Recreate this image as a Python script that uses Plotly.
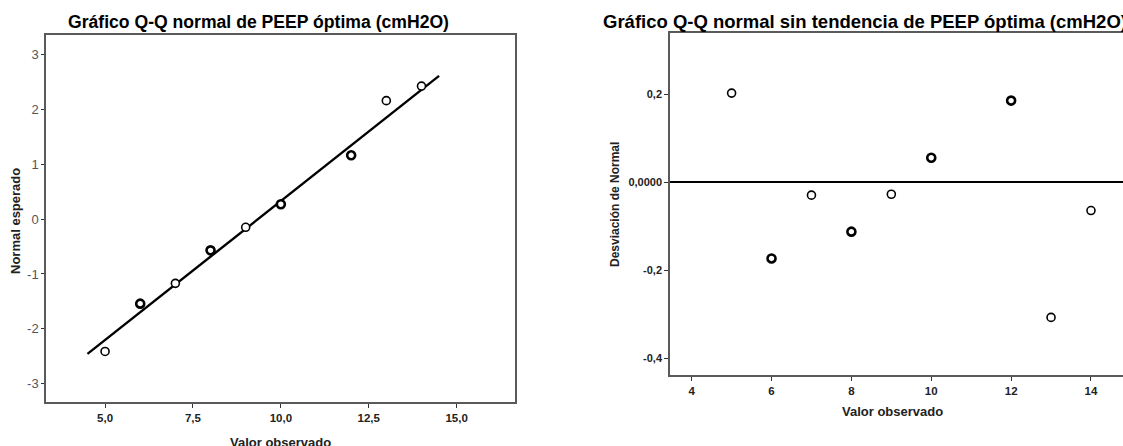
import plotly.graph_objects as go

# Observed PEEP values (cmH2O) and their expected normal scores
observed = [5, 6, 7, 8, 9, 10, 12, 13, 14]
expected_normal = [-2.41, -1.54, -1.17, -0.57, -0.15, 0.27, 1.16, 2.155, 2.42]
# Deviation from normal (detrended)
deviation = [0.203, -0.173, -0.029, -0.112, -0.027, 0.056, 0.186, -0.307, -0.064]
# Number of tied cases drawn at each value (ties render heavier)
tie_count = [1, 2, 1, 2, 1, 2, 2, 1, 1]

# Reference line of the Q-Q plot
ref_x = [4.5, 14.5]
ref_y = [-2.455, 2.605]

# Tick labels
left_yticks = [-3, -2, -1, 0, 1, 2, 3]
left_yticktext = ["-3", "-2", "-1", "0", "1", "2", "3"]
left_xticks = [5.0, 7.5, 10.0, 12.5, 15.0]
left_xticktext = ["5,0", "7,5", "10,0", "12,5", "15,0"]
right_yticks = [-0.4, -0.2, 0.0, 0.2]
right_yticktext = ["-0,4", "-0,2", "0,0000", "0,2"]
right_xticks = [4, 6, 8, 10, 12, 14]
right_xticktext = ["4", "6", "8", "10", "12", "14"]

W, H = 1123, 446
SANS = "Liberation Sans, Arial, sans-serif"
AXIS_GREY = "#5a5a5a"

def px_x(p):
    return p / W

def px_y(p):
    return 1 - p / H

line_w = [1.6 if c == 1 else 2.6 for c in tie_count]

fig = go.Figure()

fig.add_trace(go.Scatter(
    x=ref_x, y=ref_y, mode="lines",
    line=dict(color="black", width=2.4),
    xaxis="x", yaxis="y", hoverinfo="skip", showlegend=False,
))
fig.add_trace(go.Scatter(
    x=observed, y=expected_normal, mode="markers",
    marker=dict(symbol="circle", size=8, color="white",
                line=dict(color="black", width=line_w)),
    xaxis="x", yaxis="y", showlegend=False,
))
fig.add_trace(go.Scatter(
    x=observed, y=deviation, mode="markers",
    marker=dict(symbol="circle", size=8, color="white",
                line=dict(color="black", width=line_w)),
    xaxis="x2", yaxis="y2", showlegend=False,
))

common_axis = dict(
    showgrid=False, showline=True, linecolor=AXIS_GREY, linewidth=1.5,
    ticks="outside", ticklen=4, tickwidth=1.2, tickcolor="#333333",
    fixedrange=True,
)

bold_tick = dict(family=SANS, size=11, color="#222222", weight="bold")

fig.update_layout(
    width=W, height=H,
    margin=dict(l=0, r=0, t=0, b=0),
    paper_bgcolor="white", plot_bgcolor="white",
    xaxis=dict(
        common_axis, domain=[px_x(46), px_x(515)], range=[3.32, 16.66],
        mirror=True, anchor="y",
        tickvals=left_xticks, ticktext=left_xticktext,
        tickfont=dict(bold_tick, size=11.5),
        zeroline=False,
    ),
    yaxis=dict(
        common_axis, domain=[px_y(402), px_y(35)], range=[-3.33, 3.35],
        mirror=True, anchor="x",
        tickvals=left_yticks, ticktext=left_yticktext,
        tickfont=dict(family=SANS, size=13, color="#555555"),
        ticklen=3,
        zeroline=False,
    ),
    xaxis2=dict(
        common_axis, domain=[px_x(670), 1.0], range=[3.457, 3.457 + 453 / 39.93],
        mirror=True, anchor="y2",
        tickvals=right_xticks, ticktext=right_xticktext,
        tickfont=dict(bold_tick, size=11.5),
        zeroline=False,
    ),
    yaxis2=dict(
        common_axis, domain=[px_y(375), px_y(33.3)], range=[-0.438, 0.339],
        mirror=False, anchor="x2",
        tickvals=right_yticks, ticktext=right_yticktext,
        tickfont=bold_tick,
        zeroline=True, zerolinecolor="black", zerolinewidth=2.2,
    ),
    annotations=[
        dict(text="<b>Gráfico Q-Q normal de PEEP óptima (cmH2O)</b>",
             x=px_x(258), y=px_y(22), xref="paper", yref="paper",
             xanchor="center", yanchor="middle", showarrow=False,
             font=dict(family=SANS, size=17.6, color="black")),
        dict(text="<b>Gráfico Q-Q normal sin tendencia de PEEP óptima (cmH2O)</b>",
             x=px_x(601), y=px_y(21), xref="paper", yref="paper",
             xanchor="left", yanchor="middle", showarrow=False,
             font=dict(family=SANS, size=18.5, color="black")),
        dict(text="<b>Normal esperado</b>", textangle=-90,
             x=px_x(15), y=px_y(221), xref="paper", yref="paper",
             xanchor="center", yanchor="middle", showarrow=False,
             font=dict(family=SANS, size=13, color="#222222")),
        dict(text="<b>Valor observado</b>",
             x=px_x(280), y=px_y(442), xref="paper", yref="paper",
             xanchor="center", yanchor="middle", showarrow=False,
             font=dict(family=SANS, size=13, color="#222222")),
        dict(text="<b>Desviación de Normal</b>", textangle=-90,
             x=px_x(615), y=px_y(205), xref="paper", yref="paper",
             xanchor="center", yanchor="middle", showarrow=False,
             font=dict(family=SANS, size=12, color="#222222")),
        dict(text="<b>Valor observado</b>",
             x=px_x(892), y=px_y(411), xref="paper", yref="paper",
             xanchor="center", yanchor="middle", showarrow=False,
             font=dict(family=SANS, size=13, color="#222222")),
    ],
)

fig.write_html("out.html")
